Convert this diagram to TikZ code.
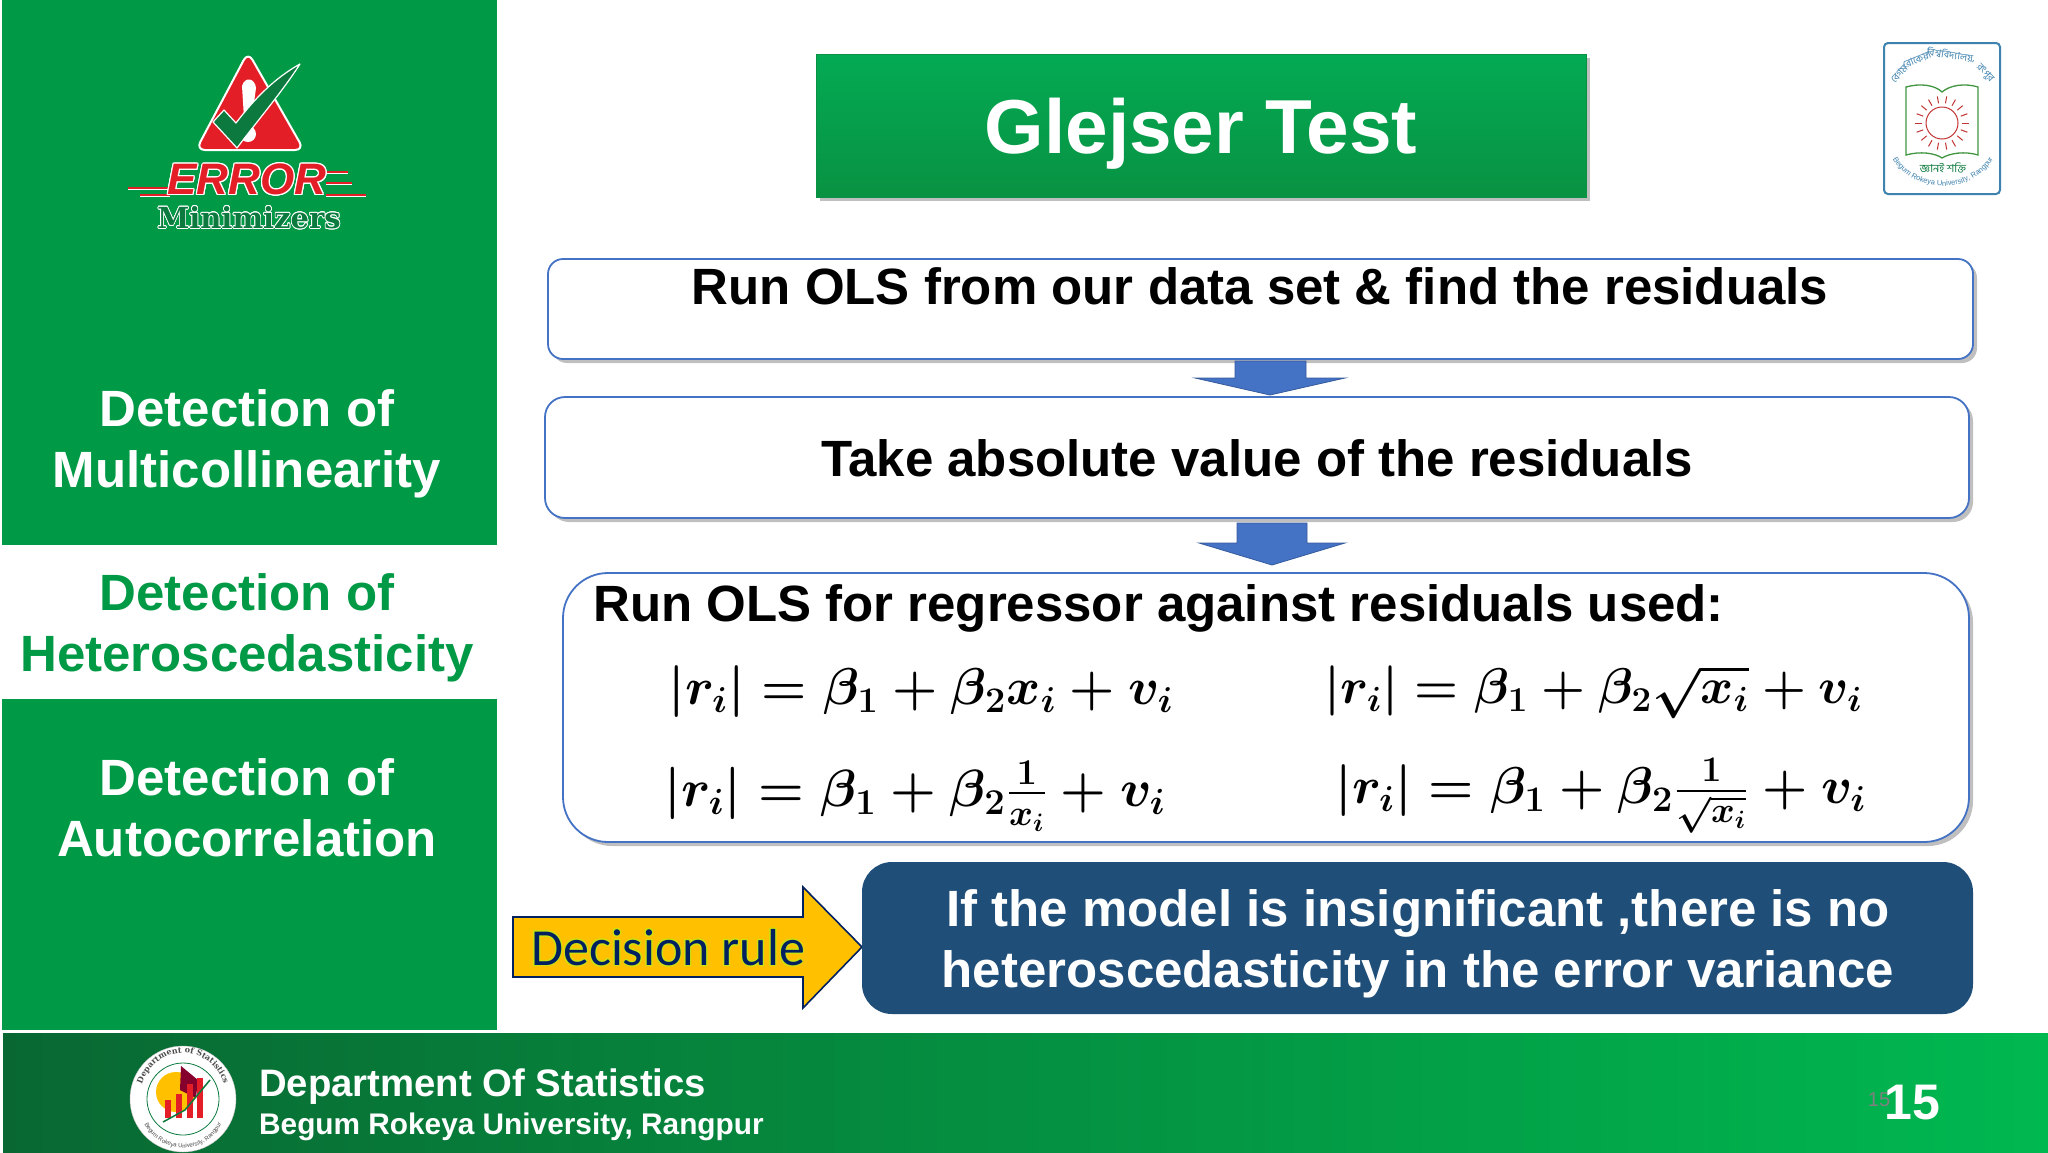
\documentclass[tikz,border=0pt]{standalone}
\usepackage{amsmath,amssymb}
\usepackage{fontspec}
\usepackage{contour}
\setmainfont{Liberation Sans}
\newfontfamily\calibrifont{Carlito}
\newfontfamily\logofont{DejaVu Serif}
\newfontfamily\bengalifont[Script=Bengali]{Hind Siliguri}
\usetikzlibrary{positioning,calc,shadows,decorations.text}
\definecolor{panelgreen}{RGB}{0,154,70}
\definecolor{footdark}{RGB}{9,104,50}
\definecolor{footlight}{RGB}{0,184,80}
\definecolor{titletop}{RGB}{4,170,84}
\definecolor{titlebot}{RGB}{8,146,66}
\definecolor{boxblue}{RGB}{68,114,196}
\definecolor{navybox}{RGB}{31,78,121}
\definecolor{navytext}{RGB}{0,32,96}
\definecolor{arrowgold}{RGB}{255,192,0}
\definecolor{logored}{RGB}{228,30,38}
\definecolor{logogreen}{RGB}{12,122,62}
\definecolor{sealblue}{RGB}{62,130,175}
\newcommand{\fsz}[1]{\fontsize{#1}{#1}\selectfont}
\contourlength{1pt}
\tikzset{
    softshadow/.style={general shadow={shadow xshift=4pt, shadow yshift=-4pt, fill=black, opacity=0.25}},
    stepbox/.style={rectangle, draw=boxblue, fill=white, line width=1.8pt, softshadow},
    steptext/.style={font=\bfseries\fsz{51}, text=black, inner sep=0pt},
    sidetext/.style={font=\bfseries\fontsize{51}{61}\selectfont, align=center, inner sep=0pt},
    eqn/.style={anchor=west, inner sep=0pt, font=\fsz{20}\boldmath, scale=2.5, transform shape},
    crestword/.style={inner sep=0pt, font=\bengalifont\fsz{10}, text=sealblue},
    downarrow/.style={fill=boxblue, draw=boxblue!80!black, line width=0.8pt},
    foottext/.style={anchor=west, inner sep=0pt, text=white},
}

\begin{document}
\begin{tikzpicture}[x=1pt, y=-1pt]
    \useasboundingbox (0,0) rectangle (2048,1152);
    \fill[white] (0,0) rectangle (2048,1152);

    % Side panel
    \fill[panelgreen] (2,0) rectangle (497,545);
    \fill[panelgreen] (2,699) rectangle (497,1030);
    \node[sidetext, text=white] (multi) at (247,444) {Detection of\\Multicollinearity};
    \node[sidetext, text=panelgreen] (hetero) at (247,628) {Detection of\\Heteroscedasticity};
    \node[sidetext, text=white] (auto) at (247,808) {Detection of\\Autocorrelation};

    % Logo (left)
    \filldraw[fill=logored, draw=white, line width=2pt, rounded corners=9pt, line join=round]
        (248,52) -- (304,150) -- (196,150) -- cycle;
    \fill[white] (242,86) .. controls (245,76) and (255,78) .. (256,88) -- (252,118) -- (244,118) -- cycle;
    \fill[white] (248,134) circle (8);
    \filldraw[fill=logogreen, draw=white, line width=1.2pt, line join=round]
        (213,122) -- (224,110) -- (236,123) .. controls (255,98) and (275,78) .. (300,64)
        .. controls (282,92) and (258,120) .. (237,148) -- cycle;
    \draw[white, line width=3pt] (128,188) -- (168,188) (140,195) -- (170,195) (326,172) -- (348,172) (326,183) -- (352,183) (326,195) -- (366,195);
    \draw[logored, line width=1.2pt] (128,188) -- (168,188) (140,195) -- (170,195) (326,172) -- (348,172) (326,183) -- (352,183) (326,195) -- (366,195);
    \node[inner sep=0pt, font=\bfseries\itshape\fsz{44}, text=logored] (errorword) at (247,180) {\contour{white}{ERROR}};
    \node[inner sep=0pt, font=\logofont\bfseries\fsz{29}, text=logogreen] (minword) at (249,218) {\contourlength{0.7pt}\contour{white}{Minimizers}};

    % Title
    \node[rectangle, minimum width=770pt, minimum height=143pt, top color=titletop, bottom color=titlebot,
        draw=titlebot, softshadow] (title) at (1201,125.5) {};
    \node[inner sep=0pt, font=\bfseries\fsz{76.5}, text=white] (titletext) at (1201,134) {Glejser Test};

    % University logo (right)
    \node[rectangle, rounded corners=4pt, draw=sealblue, line width=2pt, fill=white,
        minimum width=116pt, minimum height=151pt] (crest) at (1942,118.5) {};
    \draw[green!45!black!75, line width=1.3pt] (1906,87) .. controls (1920,83) and (1935,85) .. (1942,92)
        .. controls (1950,85) and (1965,83) .. (1978,87) -- (1978,155)
        .. controls (1965,151) and (1950,153) .. (1942,158) .. controls (1935,153) and (1920,151) .. (1906,155) -- cycle;
    \coordinate (sun) at (1942,123);
    \draw[red!70!black!80, line width=1pt] (sun) circle (16);
    \foreach \a in {0,20,...,340}
        \draw[red!70!black!80, line width=1pt] ($(sun)+(\a:20)$) -- ($(sun)+(\a:27)$);
    \node[crestword, rotate=48] (crestA) at (1899,74) {বেগম};
    \node[crestword, rotate=22] (crestB) at (1917,60) {রোকেয়া};
    \node[crestword, rotate=-8] (crestC) at (1951,55) {বিশ্ববিদ্যালয়,};
    \node[crestword, rotate=-48] (crestD) at (1985,73) {রংপুর};
    \node[inner sep=0pt, font=\bengalifont\fsz{11}, text=logogreen] (motto) at (1943,168) {জ্ঞানই শক্তি};
    \path[decorate, decoration={text along path, text align=center,
        text={|\fsz{7.5}\color{sealblue}|Begum Rokeya University, Rangpur}}]
        (1891,156) .. controls (1912,196) and (1974,196) .. (1995,156);

    % Step boxes
    \node[stepbox, rounded corners=15pt, minimum width=1425pt, minimum height=100pt] (stepA) at (1260.5,309) {};
    \node[stepbox, rounded corners=20pt, minimum width=1424pt, minimum height=121pt] (stepB) at (1257,457.5) {};
    \node[stepbox, rounded corners=45pt, minimum width=1406pt, minimum height=269pt] (stepC) at (1266,707.5) {};
    \node[steptext] (textA) at (1260,286) {Run OLS from our data set \& find the residuals};
    \node[steptext] (textB) at (1257,458) {Take absolute value of the residuals};
    \node[steptext, anchor=west] (textC) at (593,608) {Run OLS for regressor against residuals used:};

    % Down arrows
    \filldraw[downarrow] (1235,361) -- (1306,361) -- (1306,378) -- (1345,378) -- (1270,395) -- (1195,378) -- (1235,378) -- cycle;
    \filldraw[downarrow] (1237,523) -- (1307,523) -- (1307,543) -- (1345,543) -- (1272,565) -- (1199,543) -- (1237,543) -- cycle;

    % Equations
    \node[eqn] (eqA) at (668,692) {$|r_i| = \beta_1 + \beta_2 x_i + v_i$};
    \node[eqn, scale=0.97] (eqB) at (1324,692) {$|r_i| = \beta_1 + \beta_2 \sqrt{x_i} + v_i$};
    \node[eqn, scale=1.01] (eqC) at (664,796) {$|r_i| = \beta_1 + \beta_2 \frac{1}{x_i} + v_i$};
    \node[eqn] (eqD) at (1335,796) {$|r_i| = \beta_1 + \beta_2 \frac{1}{\sqrt{x_i}} + v_i$};

    % Decision rule
    \filldraw[fill=arrowgold, draw=navytext, line width=1.6pt, line join=miter]
        (513,917) -- (803,917) -- (803,887) -- (862,947) -- (803,1008) -- (803,977) -- (513,977) -- cycle;
    \node[inner sep=0pt, anchor=west, font=\calibrifont\fsz{52}, text=navytext] (rule) at (531,948)
        {\contour{yellow!80!green}{Decision rule}};
    \node[rectangle, rounded corners=30pt, fill=navybox, minimum width=1111pt, minimum height=152pt] (verdict) at (1417.5,938) {};
    \node[inner sep=0pt, align=center, text=white, font=\bfseries\fontsize{51}{61}\selectfont] (verdicttext) at (1418,944)
        {If the model is insignificant ,there is no\\heteroscedasticity in the error variance};

    % Footer
    \fill[left color=footdark, right color=footlight] (3,1033) rectangle (2048,1152);
    \filldraw[fill=white, draw=gray!50] (183,1099) circle (53);
    \draw[logogreen, line width=0.8pt] (183,1099) circle (36);
    \fill[arrowgold] (176,1092) circle (20);
    \fill[purple!70!black] (181,1066) -- (198,1080) -- (196,1098) -- (180,1090) -- cycle;
    \foreach \bx/\bh in {165/18,176/24,187/34,197/40}
        \fill[logored] (\bx,1118) rectangle ++(6,-\bh);
    \draw[logogreen, line width=1.5pt] (163,1122) -- (185,1110) -- (210,1080);
    \path[decorate, decoration={text along path, text align=center,
        text={|\logofont\bfseries\fsz{8}\color{black!70}|Department of Statistics}}]
        (140,1092) .. controls (150,1040) and (216,1040) .. (226,1092);
    \path[decorate, decoration={text along path, text align=center,
        text={|\fsz{6}\color{black!70}|Begum Rokeya University, Rangpur}}]
        (140,1112) .. controls (152,1160) and (214,1160) .. (226,1112);
    \node[foottext, font=\bfseries\fsz{38.3}] (dept) at (259,1087) {Department Of Statistics};
    \node[foottext, font=\bfseries\fsz{29.8}] (univ) at (259,1127) {Begum Rokeya University, Rangpur};
    \node[inner sep=0pt, font=\rmfamily\fsz{20}, text=gray] (ghostnum) at (1879,1100) {15};
    \node[inner sep=0pt, font=\bfseries\fsz{50}, text=white] (pagenum) at (1912,1103) {15};
\end{tikzpicture}
\end{document}
